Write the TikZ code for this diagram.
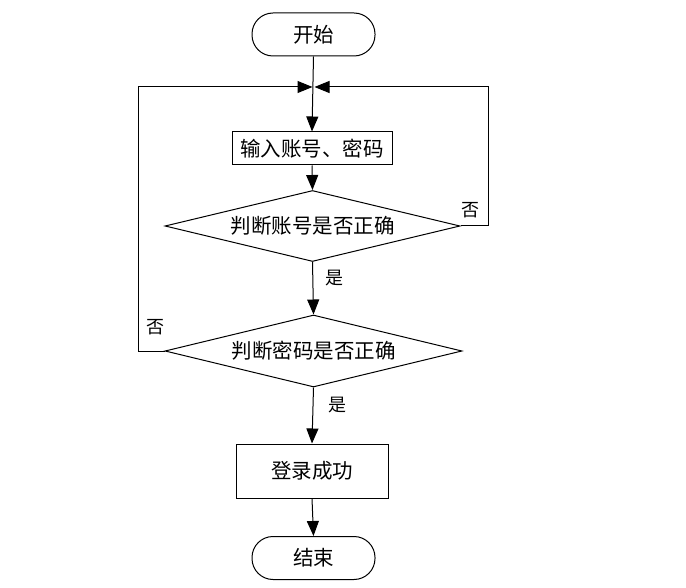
\documentclass[tikz,border=0pt]{standalone}
\usepackage{fontspec}
\setmainfont{Noto Sans CJK SC}
\usetikzlibrary{shapes.geometric,arrows.meta}
\begin{document}
\begin{tikzpicture}[x=1pt,y=-1pt,
  every node/.style={font=\fontsize{20.5}{20.5}\selectfont},
  term/.style={draw,line width=1pt,rectangle,rounded corners=21pt,minimum width=123pt,minimum height=43pt,inner sep=0pt},
  proc/.style={draw,line width=1pt,rectangle,inner sep=0pt},
  decide/.style={draw,line width=1pt,diamond,inner sep=0pt},
  lbl/.style={font=\fontsize{18}{18}\selectfont,inner sep=0pt},
  flow/.style={line width=1pt,-{Triangle[length=15pt,width=12pt]}},
  plain/.style={line width=1pt}]
\useasboundingbox (0,0) rectangle (686,588);
\node[term] (start) at (313.5,34.5) {开始};
\node[proc,minimum width=160pt,minimum height=33pt] (input) at (312,148.5) {输入账号、密码};
\node[decide,aspect=4.15,minimum width=295pt,minimum height=71pt] (d1) at (312.5,226) {判断账号是否正确};
\node[decide,aspect=4.12,minimum width=297pt,minimum height=72pt] (d2) at (313.5,351) {判断密码是否正确};
\node[proc,minimum width=152pt,minimum height=54pt] (ok) at (312,471) {登录成功};
\node[term] (stop) at (313.5,558) {结束};
\coordinate (jl) at (312.5,87);
\coordinate (jr) at (314.5,87);
\coordinate (rt) at (488,87);
\coordinate (lt) at (138,87);
\draw[flow] (start.south) -- (input.north);
\draw[flow] (input.south) -- (d1.north);
\draw[flow] (d1.south) -- (d2.north);
\draw[flow] (d2.south) -- (ok.north);
\draw[flow] (ok.south) -- (stop.north);
\draw[flow] (d1.east) -| (rt) -- (jr);
\draw[flow] (d2.west) -| (lt) -- (jl);
\node[lbl] (n1) at (470,210) {否};
\node[lbl] (y1) at (334,278) {是};
\node[lbl] (n2) at (155,327) {否};
\node[lbl] (y2) at (337,405) {是};
\end{tikzpicture}
\end{document}
